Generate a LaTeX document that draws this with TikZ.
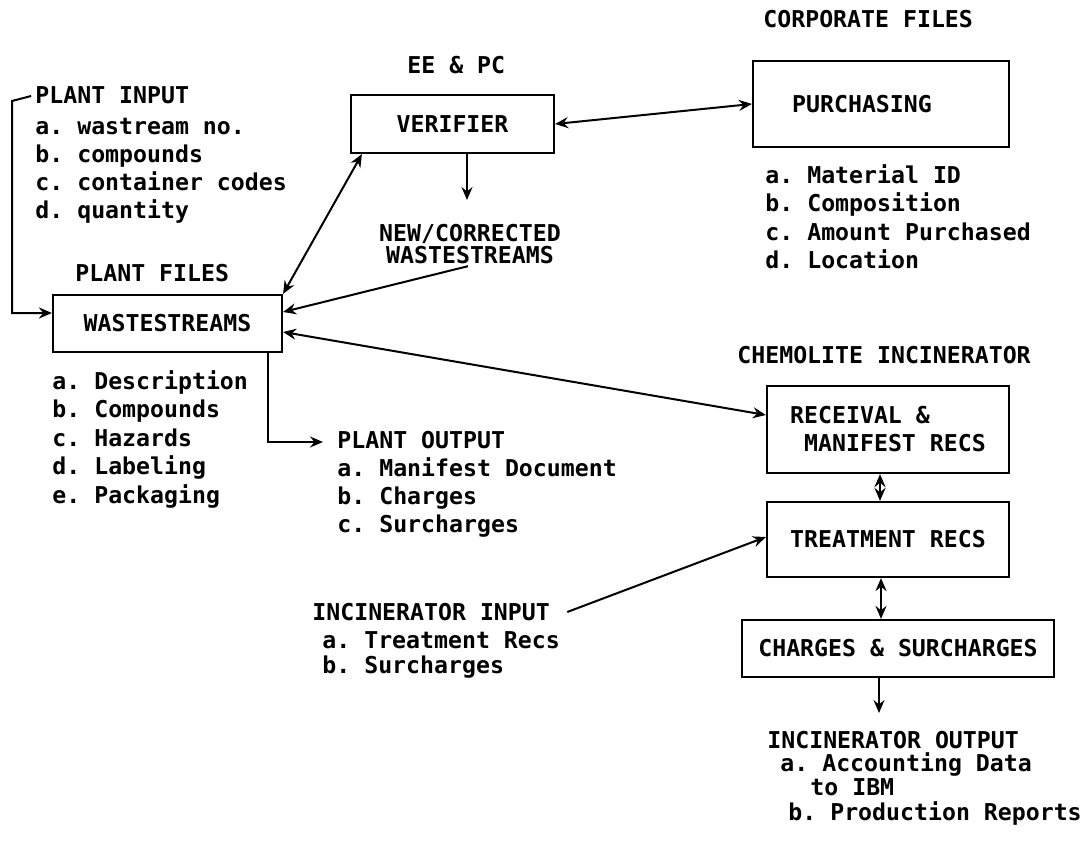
\documentclass[tikz,border=0pt]{standalone}
\usepackage{fontspec}
\newfontfamily\plotfont{DejaVu Sans Mono}
\usetikzlibrary{arrows.meta}
\begin{document}
\frenchspacing
\begin{tikzpicture}[x=0.5pt,y=-0.5pt,
  every node/.style={font=\plotfont\bfseries\fontsize{11.6}{14}\selectfont\frenchspacing},
  txt/.style={anchor=west, inner sep=0pt, text height=8.4pt, text depth=0pt},
  box/.style={draw, line width=1.1pt, inner sep=0pt},
  tip/.tip={Stealth[length=6.5pt,width=5.5pt,inset=2.2pt]},
  arr/.style={line width=1pt, -tip},
  darr/.style={line width=1pt, tip-tip}]
\useasboundingbox (0,0) rectangle (1085,845);
\fill[white] (0,0) rectangle (1085,845);

% boxes
\node[box, minimum width=101.5pt, minimum height=29pt] (ver) at (452.5,124) {VERIFIER};
\node[box, minimum width=128pt, minimum height=43pt] (pur) at (881,104) {PURCHASING\hspace*{19pt}};
\node[box, minimum width=114.5pt, minimum height=28.5pt] (ws) at (167.5,323.5) {WASTESTREAMS};
\node[box, minimum width=121pt, minimum height=43.5pt, align=left] (rec) at (888,429.5) {RECEIVAL \&\\\hspace*{7pt}MANIFEST RECS};
\node[box, minimum width=121pt, minimum height=37.5pt] (trt) at (888,539.5) {TREATMENT RECS};
\node[box, minimum width=156pt, minimum height=28.5pt] (chg) at (898,648.5) {CHARGES \& SURCHARGES};

% headings
\node[txt] (corp) at (763,19) {CORPORATE FILES};
\node[txt] (eepc) at (407,65) {EE \& PC};
\node[txt] (pfiles) at (75,273) {PLANT FILES};
\node[txt] (chem) at (737,355) {CHEMOLITE INCINERATOR};
\node[align=center, inner sep=1pt, font=\plotfont\bfseries\fontsize{11.6}{11}\selectfont] (newc) at (470,244) {NEW/CORRECTED\\WASTESTREAMS};

% plant input
\node[txt] (pin) at (35,95) {PLANT INPUT};
\node[txt] (pina) at (35,126) {a. wastream no.};
\node[txt] (pinb) at (35,154) {b. compounds};
\node[txt] (pinc) at (35,182) {c. container codes};
\node[txt] (pind) at (35,210) {d. quantity};

% purchasing list
\node[txt] (pura) at (765,175) {a. Material ID};
\node[txt] (purb) at (765,203) {b. Composition};
\node[txt] (purc) at (765,232) {c. Amount Purchased};
\node[txt] (purd) at (765,260) {d. Location};

% wastestreams list
\node[txt] (wsa) at (52,381) {a. Description};
\node[txt] (wsb) at (52,409.5) {b. Compounds};
\node[txt] (wsc) at (52,438) {c. Hazards};
\node[txt] (wsd) at (52,466.5) {d. Labeling};
\node[txt] (wse) at (52,495) {e. Packaging};

% plant output
\node[txt] (pout) at (337,440) {PLANT OUTPUT};
\node[txt] (pouta) at (337,468) {a. Manifest Document};
\node[txt] (poutb) at (337,496) {b. Charges};
\node[txt] (poutc) at (337,524) {c. Surcharges};

% incinerator input
\node[txt] (iin) at (312,612) {INCINERATOR INPUT};
\node[txt] (iina) at (322,640) {a. Treatment Recs};
\node[txt] (iinb) at (322,665) {b. Surcharges};

% incinerator output
\node[txt] (iout) at (767,740) {INCINERATOR OUTPUT};
\node[txt] (iouta) at (780,763) {a. Accounting Data};
\node[txt] (ioutb) at (810,787) {to IBM};
\node[txt] (ioutc) at (788,812) {b. Production Reports};

% connectors
\coordinate (b1) at (12,101);
\coordinate (b2) at (12,313);
\draw[arr, shorten <=2pt] (pin.west) -- (b1) -- (b2) -- (b2 -| ws.west);
\draw[darr] ([xshift=6pt]ver.south west) -- (ws.north east);
\draw[darr] (ver.east) -- (pur.west);
\coordinate (ncin) at (467,200);
\draw[arr] (ver.south -| ncin) -- (ncin);
\draw[arr] ([xshift=-1pt]newc.south) -- ([yshift=5.75pt]ws.east);
\draw[darr] ([yshift=-4.25pt]ws.east) -- ([yshift=7.25pt]rec.west);
\draw[arr] ([xshift=-7.5pt]ws.south east) |- ([xshift=-7pt,yshift=-1pt]pout.west);
\draw[arr] ([xshift=8.5pt]iin.east) -- ([yshift=1.25pt]trt.west);
\draw[darr] ([xshift=-4pt]rec.south) -- ([xshift=-4pt]trt.north);
\draw[darr] ([xshift=-3.5pt]trt.south) -- ([xshift=-3.5pt]trt.south |- chg.north);
\coordinate (ioin) at (879,713);
\draw[arr] (chg.south -| ioin) -- (ioin);
\end{tikzpicture}
\end{document}
